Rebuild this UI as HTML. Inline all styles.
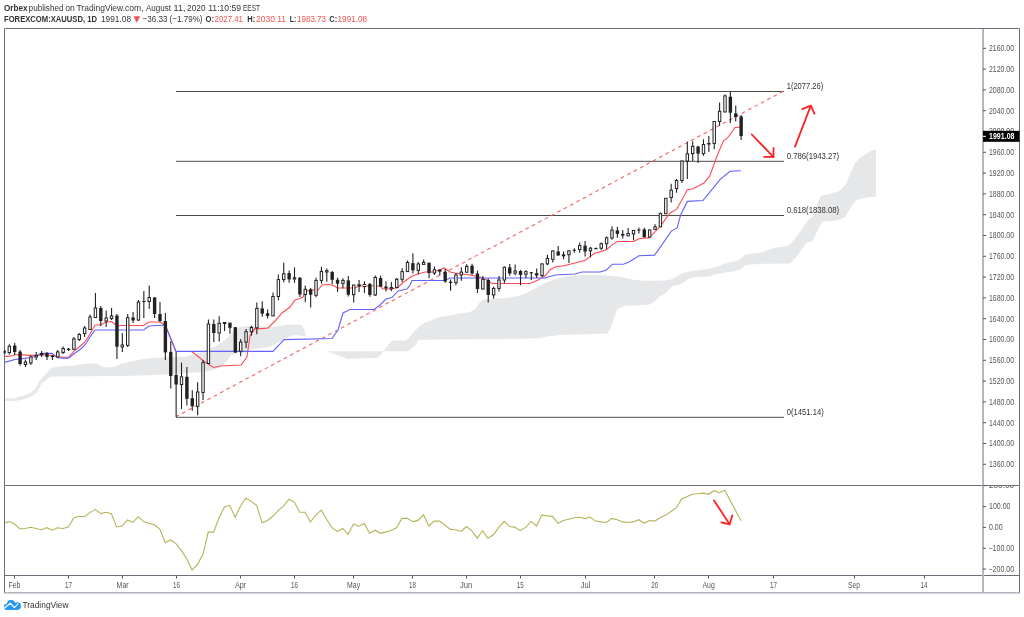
<!DOCTYPE html>
<html><head><meta charset="utf-8"><style>
html,body{margin:0;padding:0;background:#fff;}
body{width:1024px;height:617px;overflow:hidden;position:relative;font-family:"Liberation Sans", sans-serif;}
svg{position:absolute;left:0;top:0;will-change:transform;}
</style></head><body>
<svg width="1024" height="617" viewBox="0 0 1024 617" font-family='"Liberation Sans", sans-serif'>
<defs>
<clipPath id="mainclip"><rect x="5" y="29" width="977" height="456"/></clipPath>
<clipPath id="cciclip"><rect x="5" y="486" width="977" height="89"/></clipPath>
</defs>

<text x="4.0" y="11" font-size="9.2" font-weight="bold" fill="#333" textLength="23.6" lengthAdjust="spacingAndGlyphs">Orbex</text>
<text x="28.6" y="11" font-size="9.2" font-weight="normal" fill="#333" textLength="35" lengthAdjust="spacingAndGlyphs">published</text>
<text x="65.2" y="11" font-size="9.2" font-weight="normal" fill="#333" textLength="9.6" lengthAdjust="spacingAndGlyphs">on</text>
<text x="76.5" y="11" font-size="9.2" font-weight="normal" fill="#333" textLength="67" lengthAdjust="spacingAndGlyphs">TradingView.com,</text>
<text x="146.0" y="11" font-size="9.2" font-weight="normal" fill="#333" textLength="25" lengthAdjust="spacingAndGlyphs">August</text>
<text x="173.6" y="11" font-size="9.2" font-weight="normal" fill="#333" textLength="11.8" lengthAdjust="spacingAndGlyphs">11,</text>
<text x="187.1" y="11" font-size="9.2" font-weight="normal" fill="#333" textLength="18.4" lengthAdjust="spacingAndGlyphs">2020</text>
<text x="208.2" y="11" font-size="9.2" font-weight="normal" fill="#333" textLength="33" lengthAdjust="spacingAndGlyphs">11:10:59</text>
<text x="243.0" y="11" font-size="9.2" font-weight="normal" fill="#333" textLength="17" lengthAdjust="spacingAndGlyphs">EEST</text>
<text x="4" y="22.2" font-size="9.2" font-weight="bold" fill="#333" textLength="93" lengthAdjust="spacingAndGlyphs">FOREXCOM:XAUUSD, 1D</text>
<text x="101" y="22.2" font-size="9.2" font-weight="normal" fill="#333" textLength="30" lengthAdjust="spacingAndGlyphs">1991.08</text>
<text x="142.5" y="22.2" font-size="9.2" font-weight="normal" fill="#333" textLength="60" lengthAdjust="spacingAndGlyphs">−36.33 (−1.79%)</text>
<text x="205.5" y="22.2" font-size="9.2" font-weight="bold" fill="#333" textLength="8.5" lengthAdjust="spacingAndGlyphs">O:</text>
<text x="214.5" y="22.2" font-size="9.2" font-weight="normal" fill="#ef5350" textLength="28.5" lengthAdjust="spacingAndGlyphs">2027.41</text>
<text x="247.3" y="22.2" font-size="9.2" font-weight="bold" fill="#333" textLength="8" lengthAdjust="spacingAndGlyphs">H:</text>
<text x="256" y="22.2" font-size="9.2" font-weight="normal" fill="#ef5350" textLength="30" lengthAdjust="spacingAndGlyphs">2030.11</text>
<text x="289.8" y="22.2" font-size="9.2" font-weight="bold" fill="#333" textLength="6.5" lengthAdjust="spacingAndGlyphs">L:</text>
<text x="297" y="22.2" font-size="9.2" font-weight="normal" fill="#ef5350" textLength="29" lengthAdjust="spacingAndGlyphs">1983.73</text>
<text x="329.3" y="22.2" font-size="9.2" font-weight="bold" fill="#333" textLength="8" lengthAdjust="spacingAndGlyphs">C:</text>
<text x="337.5" y="22.2" font-size="9.2" font-weight="normal" fill="#ef5350" textLength="29.7" lengthAdjust="spacingAndGlyphs">1991.08</text>
<path d="M133.6,16.2 L140.1,16.2 L136.85,22.8 Z" fill="#ef5350"/>
<g clip-path="url(#mainclip)">
<polygon points="4.0,398.8 15.0,398.1 20.0,396.5 25.0,395.0 30.0,393.3 35.0,389.2 40.0,380.0 45.0,374.9 50.0,369.5 53.0,367.4 60.0,366.6 75.0,365.6 80.0,364.6 85.0,363.7 97.0,363.2 100.0,365.6 102.0,367.1 110.0,367.4 115.0,366.6 120.0,364.2 130.0,361.7 140.0,359.6 155.0,357.8 170.0,357.1 185.0,357.0 190.0,355.6 195.0,354.2 205.0,350.8 215.0,346.6 225.0,340.3 230.0,335.0 235.0,329.7 240.0,326.9 250.0,325.9 270.0,327.0 280.0,325.9 285.0,324.8 300.0,324.4 302.0,325.6 305.0,331.0 306.0,336.2 306.0,336.2 295.0,335.1 290.0,336.2 285.0,338.7 280.0,341.6 275.0,344.5 270.0,346.4 260.0,348.2 250.0,349.5 245.0,352.9 235.0,353.4 230.0,356.0 227.0,361.3 222.0,365.5 215.0,369.7 205.0,371.8 195.0,372.4 175.0,374.0 150.0,375.3 120.0,375.9 53.0,376.6 50.0,376.9 45.0,381.3 42.0,382.7 38.0,390.8 34.0,394.9 30.0,397.0 25.0,399.0 20.0,400.0 15.0,401.0 4.0,401.0" fill="#e6e7e9"/>
<polygon points="327.0,351.2 383.0,351.2 383.0,351.2 380.0,356.1 375.0,357.9 356.0,358.6 348.0,359.1 342.0,357.1 335.0,354.2 327.0,351.2" fill="#e6e7e9"/>
<polygon points="383.0,351.2 388.0,345.4 392.0,340.5 405.0,340.5 408.0,339.0 410.0,336.5 415.0,330.5 420.0,326.0 425.0,322.5 430.0,321.0 435.0,318.5 440.0,317.0 450.0,315.5 460.0,313.5 470.0,312.0 475.0,309.3 478.0,305.0 480.0,301.5 485.0,299.1 490.0,298.5 500.0,298.5 510.0,297.8 511.0,297.5 520.0,295.5 527.0,292.8 535.0,288.5 545.0,283.2 557.0,278.5 567.0,276.2 577.0,275.2 590.0,275.1 600.0,275.1 610.0,275.9 620.0,276.7 628.0,278.4 635.0,280.0 645.0,280.8 665.0,280.4 670.0,279.7 675.0,277.8 680.0,274.6 685.0,272.6 693.0,270.7 700.0,270.0 710.0,268.7 715.0,267.0 720.0,265.8 725.0,263.4 730.0,261.9 735.0,261.4 740.0,259.5 745.0,255.1 750.0,253.7 760.0,252.7 765.0,251.2 770.0,249.3 775.0,247.4 785.0,246.4 790.0,244.4 795.0,238.6 800.9,230.7 807.7,220.5 812.2,217.1 815.0,210.5 818.0,202.0 821.3,195.6 828.0,194.5 839.4,191.0 846.0,184.2 850.0,174.0 855.3,162.7 860.0,158.0 864.4,154.7 870.0,151.5 876.0,149.2 876.0,196.7 870.0,197.0 864.0,198.0 858.0,199.6 854.0,202.5 851.0,207.0 848.0,212.2 845.0,216.8 840.0,219.4 830.0,221.3 821.9,221.8 812.8,240.6 806.3,243.2 795.0,258.5 790.0,263.4 760.0,263.9 750.0,264.4 745.0,265.8 740.0,269.7 735.0,271.2 725.0,272.6 715.0,274.6 710.0,276.5 693.0,277.2 688.0,279.1 683.0,283.0 678.0,284.9 672.0,286.2 668.0,290.8 665.0,294.0 660.0,296.0 655.0,301.1 650.0,304.4 625.0,306.0 620.0,307.5 617.0,310.0 613.0,321.3 610.0,329.4 607.0,333.5 585.0,334.3 560.0,335.1 545.0,336.7 540.0,338.3 520.0,338.8 418.0,339.7 416.0,344.4 412.0,348.3 408.0,351.2 383.0,351.2" fill="#e6e7e9"/>
<line x1="176" y1="91.5" x2="784" y2="91.5" stroke="#4a4a4a" stroke-width="1"/>
<line x1="176" y1="161.3" x2="784" y2="161.3" stroke="#4a4a4a" stroke-width="1"/>
<line x1="176" y1="215.5" x2="784" y2="215.5" stroke="#4a4a4a" stroke-width="1"/>
<line x1="176" y1="417.3" x2="784" y2="417.3" stroke="#4a4a4a" stroke-width="1"/>
<line x1="176" y1="416.6" x2="783.5" y2="91.1" stroke="#f46464" stroke-width="1.1" stroke-dasharray="3.7,3.518" stroke-dashoffset="0.515"/>
<polyline points="4.0,356.4 10.0,356.2 15.0,354.8 20.0,354.6 30.0,355.4 36.0,355.4 41.0,354.8 47.0,355.0 52.0,355.2 57.5,356.6 63.0,357.3 68.5,357.3 74.0,351.1 80.0,346.2 85.0,342.0 90.0,334.0 95.0,325.0 100.5,325.0 106.0,322.0 111.5,321.5 117.0,326.0 122.0,325.5 143.6,325.5 149.0,322.0 159.8,322.0 165.2,325.0 176.0,351.4 192.0,351.5 200.0,358.0 205.0,362.0 213.6,367.5 220.0,366.0 241.0,365.0 247.0,357.0 250.0,336.0 255.0,328.6 262.0,328.6 268.0,328.0 275.0,321.0 282.0,313.0 290.0,307.0 295.0,300.0 300.0,298.5 303.0,297.0 305.0,292.0 310.0,290.0 318.0,290.0 322.0,285.0 328.0,284.5 332.0,285.0 338.0,288.0 355.0,288.0 359.0,286.0 380.0,286.0 383.0,289.0 390.0,289.0 397.0,288.0 405.0,281.0 412.0,276.0 418.0,274.0 425.0,272.0 432.0,272.0 440.0,270.0 444.0,268.0 450.0,272.0 455.0,273.0 462.0,274.0 470.0,275.0 480.0,277.0 487.0,280.0 492.0,283.5 530.0,283.5 538.0,280.0 545.0,276.0 550.0,270.0 555.0,267.0 565.0,265.5 575.0,263.0 585.0,260.5 595.0,253.0 600.0,251.9 607.1,249.3 613.0,244.1 617.5,241.5 633.7,241.5 638.9,238.7 649.3,237.6 654.5,232.4 661.0,225.3 670.0,213.0 676.7,209.2 687.4,189.8 693.2,188.8 703.9,183.0 709.7,176.1 717.5,154.7 723.4,141.1 727.3,138.2 735.0,127.5 741.0,127.1" fill="none" stroke="#ff4a55" stroke-width="1.1"/>
<polyline points="4.0,362.4 10.0,360.9 15.0,359.5 20.0,358.9 30.0,357.7 36.0,356.2 41.0,353.4 52.0,353.3 57.5,357.7 63.0,358.1 68.5,358.1 74.0,353.8 80.0,349.5 85.0,345.0 90.0,337.0 95.0,330.0 143.6,330.0 149.0,326.0 165.2,325.0 176.0,351.4 273.0,351.4 284.0,339.6 332.0,338.5 338.0,330.0 343.0,313.0 350.0,309.5 374.0,309.5 380.0,305.0 386.0,299.0 392.0,297.5 398.0,291.0 402.0,290.0 407.0,289.0 410.0,285.0 412.0,280.5 445.0,280.5 450.0,278.0 545.0,278.0 555.0,275.0 575.0,274.0 582.0,272.0 600.0,272.0 606.5,270.0 612.3,264.2 623.3,264.2 628.5,262.3 638.9,255.8 654.5,255.1 657.0,251.9 671.3,231.1 677.2,227.9 680.6,215.0 687.4,201.4 702.9,200.5 711.7,189.8 720.4,179.1 730.2,171.3 740.9,170.7" fill="none" stroke="#6262ff" stroke-width="1.1"/>
<line x1="3.94" y1="349.5" x2="3.94" y2="353.5" stroke="#222" stroke-width="1.1"/>
<rect x="2.24" y="350.8" width="3.4" height="1.6" fill="#222"/>
<line x1="9.32" y1="344.3" x2="9.32" y2="354.5" stroke="#222" stroke-width="1.1"/>
<rect x="8.12" y="346.3" width="2.4" height="6.3" fill="#fff" stroke="#222" stroke-width="1"/>
<line x1="14.70" y1="343.0" x2="14.70" y2="355.0" stroke="#222" stroke-width="1.1"/>
<rect x="13.00" y="345.6" width="3.4" height="6.4" fill="#222"/>
<line x1="20.08" y1="350.0" x2="20.08" y2="365.5" stroke="#222" stroke-width="1.1"/>
<rect x="18.38" y="351.6" width="3.4" height="12.4" fill="#222"/>
<line x1="25.46" y1="359.5" x2="25.46" y2="367.0" stroke="#222" stroke-width="1.1"/>
<rect x="24.26" y="362.0" width="2.4" height="2.5" fill="#fff" stroke="#222" stroke-width="1"/>
<line x1="30.84" y1="355.5" x2="30.84" y2="365.0" stroke="#222" stroke-width="1.1"/>
<rect x="29.64" y="357.0" width="2.4" height="6.0" fill="#fff" stroke="#222" stroke-width="1"/>
<line x1="36.22" y1="352.0" x2="36.22" y2="360.0" stroke="#222" stroke-width="1.1"/>
<rect x="35.02" y="355.5" width="2.4" height="1.5" fill="#fff" stroke="#222" stroke-width="1"/>
<line x1="41.61" y1="351.0" x2="41.61" y2="357.0" stroke="#222" stroke-width="1.1"/>
<rect x="39.91" y="353.0" width="3.4" height="2.3" fill="#222"/>
<line x1="46.99" y1="352.0" x2="46.99" y2="360.0" stroke="#222" stroke-width="1.1"/>
<rect x="45.29" y="353.0" width="3.4" height="4.0" fill="#222"/>
<line x1="52.37" y1="355.0" x2="52.37" y2="360.0" stroke="#222" stroke-width="1.1"/>
<rect x="50.67" y="355.5" width="3.4" height="1.5" fill="#222"/>
<line x1="57.75" y1="350.0" x2="57.75" y2="357.5" stroke="#222" stroke-width="1.1"/>
<rect x="56.55" y="351.9" width="2.4" height="5.1" fill="#fff" stroke="#222" stroke-width="1"/>
<line x1="63.13" y1="346.5" x2="63.13" y2="354.0" stroke="#222" stroke-width="1.1"/>
<rect x="61.93" y="348.5" width="2.4" height="4.0" fill="#fff" stroke="#222" stroke-width="1"/>
<line x1="68.51" y1="348.0" x2="68.51" y2="351.0" stroke="#222" stroke-width="1.1"/>
<rect x="66.81" y="348.7" width="3.4" height="1.3" fill="#222"/>
<line x1="73.89" y1="337.0" x2="73.89" y2="349.5" stroke="#222" stroke-width="1.1"/>
<rect x="72.69" y="338.9" width="2.4" height="10.4" fill="#fff" stroke="#222" stroke-width="1"/>
<line x1="79.27" y1="333.0" x2="79.27" y2="341.0" stroke="#222" stroke-width="1.1"/>
<rect x="78.07" y="334.5" width="2.4" height="5.0" fill="#fff" stroke="#222" stroke-width="1"/>
<line x1="84.65" y1="326.0" x2="84.65" y2="337.0" stroke="#222" stroke-width="1.1"/>
<rect x="83.45" y="328.0" width="2.4" height="5.5" fill="#fff" stroke="#222" stroke-width="1"/>
<line x1="90.03" y1="314.5" x2="90.03" y2="330.0" stroke="#222" stroke-width="1.1"/>
<rect x="88.83" y="317.0" width="2.4" height="12.5" fill="#fff" stroke="#222" stroke-width="1"/>
<line x1="95.42" y1="293.0" x2="95.42" y2="317.5" stroke="#222" stroke-width="1.1"/>
<rect x="94.22" y="308.0" width="2.4" height="9.5" fill="#fff" stroke="#222" stroke-width="1"/>
<line x1="100.80" y1="306.0" x2="100.80" y2="326.0" stroke="#222" stroke-width="1.1"/>
<rect x="99.10" y="308.0" width="3.4" height="13.0" fill="#222"/>
<line x1="106.18" y1="310.5" x2="106.18" y2="327.0" stroke="#222" stroke-width="1.1"/>
<rect x="104.98" y="318.0" width="2.4" height="3.0" fill="#fff" stroke="#222" stroke-width="1"/>
<line x1="111.56" y1="308.0" x2="111.56" y2="320.0" stroke="#222" stroke-width="1.1"/>
<rect x="110.36" y="316.0" width="2.4" height="2.6" fill="#fff" stroke="#222" stroke-width="1"/>
<line x1="116.94" y1="314.0" x2="116.94" y2="359.0" stroke="#222" stroke-width="1.1"/>
<rect x="115.24" y="315.6" width="3.4" height="31.1" fill="#222"/>
<line x1="122.32" y1="333.0" x2="122.32" y2="352.0" stroke="#222" stroke-width="1.1"/>
<rect x="121.12" y="345.0" width="2.4" height="2.0" fill="#fff" stroke="#222" stroke-width="1"/>
<line x1="127.70" y1="314.0" x2="127.70" y2="347.0" stroke="#222" stroke-width="1.1"/>
<rect x="126.50" y="317.6" width="2.4" height="27.8" fill="#fff" stroke="#222" stroke-width="1"/>
<line x1="133.08" y1="312.0" x2="133.08" y2="323.0" stroke="#222" stroke-width="1.1"/>
<rect x="131.38" y="317.5" width="3.4" height="3.0" fill="#222"/>
<line x1="138.46" y1="300.0" x2="138.46" y2="321.0" stroke="#222" stroke-width="1.1"/>
<rect x="137.26" y="302.0" width="2.4" height="18.0" fill="#fff" stroke="#222" stroke-width="1"/>
<line x1="143.84" y1="291.0" x2="143.84" y2="318.0" stroke="#222" stroke-width="1.1"/>
<rect x="142.14" y="301.0" width="3.4" height="1.0" fill="#222"/>
<line x1="149.22" y1="285.5" x2="149.22" y2="309.0" stroke="#222" stroke-width="1.1"/>
<rect x="148.03" y="297.5" width="2.4" height="4.0" fill="#fff" stroke="#222" stroke-width="1"/>
<line x1="154.61" y1="297.0" x2="154.61" y2="318.0" stroke="#222" stroke-width="1.1"/>
<rect x="152.91" y="297.5" width="3.4" height="16.5" fill="#222"/>
<line x1="159.99" y1="302.0" x2="159.99" y2="322.0" stroke="#222" stroke-width="1.1"/>
<rect x="158.29" y="314.0" width="3.4" height="7.0" fill="#222"/>
<line x1="165.37" y1="313.0" x2="165.37" y2="360.0" stroke="#222" stroke-width="1.1"/>
<rect x="163.67" y="321.0" width="3.4" height="31.4" fill="#222"/>
<line x1="170.75" y1="341.2" x2="170.75" y2="388.4" stroke="#222" stroke-width="1.1"/>
<rect x="169.05" y="351.9" width="3.4" height="24.1" fill="#222"/>
<line x1="176.13" y1="352.0" x2="176.13" y2="417.0" stroke="#222" stroke-width="1.1"/>
<rect x="174.43" y="375.0" width="3.4" height="9.5" fill="#222"/>
<line x1="181.51" y1="362.6" x2="181.51" y2="409.0" stroke="#222" stroke-width="1.1"/>
<rect x="180.31" y="376.8" width="2.4" height="7.7" fill="#fff" stroke="#222" stroke-width="1"/>
<line x1="186.89" y1="367.0" x2="186.89" y2="405.4" stroke="#222" stroke-width="1.1"/>
<rect x="185.19" y="376.8" width="3.4" height="22.0" fill="#222"/>
<line x1="192.27" y1="390.2" x2="192.27" y2="410.7" stroke="#222" stroke-width="1.1"/>
<rect x="190.57" y="398.2" width="3.4" height="8.1" fill="#222"/>
<line x1="197.65" y1="382.2" x2="197.65" y2="415.2" stroke="#222" stroke-width="1.1"/>
<rect x="196.45" y="392.0" width="2.4" height="14.3" fill="#fff" stroke="#222" stroke-width="1"/>
<line x1="203.03" y1="360.0" x2="203.03" y2="400.0" stroke="#222" stroke-width="1.1"/>
<rect x="201.84" y="362.6" width="2.4" height="29.8" fill="#fff" stroke="#222" stroke-width="1"/>
<line x1="208.42" y1="319.4" x2="208.42" y2="363.5" stroke="#222" stroke-width="1.1"/>
<rect x="207.22" y="324.0" width="2.4" height="39.5" fill="#fff" stroke="#222" stroke-width="1"/>
<line x1="213.80" y1="319.4" x2="213.80" y2="342.1" stroke="#222" stroke-width="1.1"/>
<rect x="212.10" y="324.0" width="3.4" height="9.0" fill="#222"/>
<line x1="219.18" y1="316.2" x2="219.18" y2="341.5" stroke="#222" stroke-width="1.1"/>
<rect x="217.98" y="323.3" width="2.4" height="9.7" fill="#fff" stroke="#222" stroke-width="1"/>
<line x1="224.56" y1="322.5" x2="224.56" y2="331.0" stroke="#222" stroke-width="1.1"/>
<rect x="223.36" y="322.5" width="2.4" height="1.0" fill="#fff" stroke="#222" stroke-width="1"/>
<line x1="229.94" y1="322.7" x2="229.94" y2="333.7" stroke="#222" stroke-width="1.1"/>
<rect x="228.24" y="322.7" width="3.4" height="5.1" fill="#222"/>
<line x1="235.32" y1="327.0" x2="235.32" y2="353.0" stroke="#222" stroke-width="1.1"/>
<rect x="233.62" y="327.2" width="3.4" height="25.3" fill="#222"/>
<line x1="240.70" y1="338.9" x2="240.70" y2="356.3" stroke="#222" stroke-width="1.1"/>
<rect x="239.50" y="342.1" width="2.4" height="9.1" fill="#fff" stroke="#222" stroke-width="1"/>
<line x1="246.08" y1="329.1" x2="246.08" y2="348.0" stroke="#222" stroke-width="1.1"/>
<rect x="244.88" y="331.7" width="2.4" height="10.4" fill="#fff" stroke="#222" stroke-width="1"/>
<line x1="251.46" y1="325.6" x2="251.46" y2="335.6" stroke="#222" stroke-width="1.1"/>
<rect x="250.26" y="327.5" width="2.4" height="4.2" fill="#fff" stroke="#222" stroke-width="1"/>
<line x1="256.85" y1="302.6" x2="256.85" y2="334.3" stroke="#222" stroke-width="1.1"/>
<rect x="255.65" y="308.4" width="2.4" height="19.4" fill="#fff" stroke="#222" stroke-width="1"/>
<line x1="262.23" y1="301.3" x2="262.23" y2="316.8" stroke="#222" stroke-width="1.1"/>
<rect x="260.53" y="308.4" width="3.4" height="5.2" fill="#222"/>
<line x1="267.61" y1="309.4" x2="267.61" y2="318.5" stroke="#222" stroke-width="1.1"/>
<rect x="265.91" y="313.3" width="3.4" height="2.6" fill="#222"/>
<line x1="272.99" y1="292.6" x2="272.99" y2="316.0" stroke="#222" stroke-width="1.1"/>
<rect x="271.79" y="296.5" width="2.4" height="19.4" fill="#fff" stroke="#222" stroke-width="1"/>
<line x1="278.37" y1="274.4" x2="278.37" y2="300.3" stroke="#222" stroke-width="1.1"/>
<rect x="277.17" y="279.6" width="2.4" height="16.9" fill="#fff" stroke="#222" stroke-width="1"/>
<line x1="283.75" y1="262.8" x2="283.75" y2="282.2" stroke="#222" stroke-width="1.1"/>
<rect x="282.55" y="273.8" width="2.4" height="5.8" fill="#fff" stroke="#222" stroke-width="1"/>
<line x1="289.13" y1="270.5" x2="289.13" y2="282.8" stroke="#222" stroke-width="1.1"/>
<rect x="287.43" y="273.1" width="3.4" height="6.3" fill="#222"/>
<line x1="294.51" y1="267.3" x2="294.51" y2="282.8" stroke="#222" stroke-width="1.1"/>
<rect x="293.31" y="277.7" width="2.4" height="1.3" fill="#fff" stroke="#222" stroke-width="1"/>
<line x1="299.89" y1="277.0" x2="299.89" y2="297.0" stroke="#222" stroke-width="1.1"/>
<rect x="298.19" y="277.7" width="3.4" height="16.8" fill="#222"/>
<line x1="305.27" y1="285.4" x2="305.27" y2="302.3" stroke="#222" stroke-width="1.1"/>
<rect x="304.07" y="289.3" width="2.4" height="5.2" fill="#fff" stroke="#222" stroke-width="1"/>
<line x1="310.66" y1="288.0" x2="310.66" y2="307.6" stroke="#222" stroke-width="1.1"/>
<rect x="308.96" y="289.3" width="3.4" height="5.4" fill="#222"/>
<line x1="316.04" y1="277.8" x2="316.04" y2="297.3" stroke="#222" stroke-width="1.1"/>
<rect x="314.84" y="280.4" width="2.4" height="14.9" fill="#fff" stroke="#222" stroke-width="1"/>
<line x1="321.42" y1="266.8" x2="321.42" y2="283.7" stroke="#222" stroke-width="1.1"/>
<rect x="320.22" y="271.4" width="2.4" height="9.0" fill="#fff" stroke="#222" stroke-width="1"/>
<line x1="326.80" y1="268.5" x2="326.80" y2="281.7" stroke="#222" stroke-width="1.1"/>
<rect x="325.60" y="270.7" width="2.4" height="1.3" fill="#fff" stroke="#222" stroke-width="1"/>
<line x1="332.18" y1="271.0" x2="332.18" y2="284.3" stroke="#222" stroke-width="1.1"/>
<rect x="330.48" y="272.0" width="3.4" height="7.8" fill="#222"/>
<line x1="337.56" y1="277.8" x2="337.56" y2="292.1" stroke="#222" stroke-width="1.1"/>
<rect x="335.86" y="279.8" width="3.4" height="3.9" fill="#222"/>
<line x1="342.94" y1="278.2" x2="342.94" y2="288.2" stroke="#222" stroke-width="1.1"/>
<rect x="341.74" y="280.4" width="2.4" height="3.0" fill="#fff" stroke="#222" stroke-width="1"/>
<line x1="348.32" y1="275.9" x2="348.32" y2="296.6" stroke="#222" stroke-width="1.1"/>
<rect x="346.62" y="280.4" width="3.4" height="14.3" fill="#222"/>
<line x1="353.70" y1="285.0" x2="353.70" y2="302.5" stroke="#222" stroke-width="1.1"/>
<rect x="352.50" y="285.0" width="2.4" height="9.7" fill="#fff" stroke="#222" stroke-width="1"/>
<line x1="359.08" y1="280.0" x2="359.08" y2="292.0" stroke="#222" stroke-width="1.1"/>
<rect x="357.38" y="284.3" width="3.4" height="2.0" fill="#222"/>
<line x1="364.46" y1="281.3" x2="364.46" y2="292.9" stroke="#222" stroke-width="1.1"/>
<rect x="363.26" y="284.5" width="2.4" height="2.0" fill="#fff" stroke="#222" stroke-width="1"/>
<line x1="369.85" y1="283.0" x2="369.85" y2="296.8" stroke="#222" stroke-width="1.1"/>
<rect x="368.15" y="283.9" width="3.4" height="11.0" fill="#222"/>
<line x1="375.23" y1="275.4" x2="375.23" y2="296.0" stroke="#222" stroke-width="1.1"/>
<rect x="374.03" y="277.4" width="2.4" height="17.5" fill="#fff" stroke="#222" stroke-width="1"/>
<line x1="380.61" y1="275.4" x2="380.61" y2="287.0" stroke="#222" stroke-width="1.1"/>
<rect x="378.91" y="278.0" width="3.4" height="8.5" fill="#222"/>
<line x1="385.99" y1="281.3" x2="385.99" y2="291.6" stroke="#222" stroke-width="1.1"/>
<rect x="384.29" y="286.5" width="3.4" height="1.9" fill="#222"/>
<line x1="391.37" y1="281.9" x2="391.37" y2="291.0" stroke="#222" stroke-width="1.1"/>
<rect x="390.17" y="287.5" width="2.4" height="1.3" fill="#fff" stroke="#222" stroke-width="1"/>
<line x1="396.75" y1="278.0" x2="396.75" y2="288.0" stroke="#222" stroke-width="1.1"/>
<rect x="395.55" y="279.3" width="2.4" height="8.2" fill="#fff" stroke="#222" stroke-width="1"/>
<line x1="402.13" y1="268.3" x2="402.13" y2="281.9" stroke="#222" stroke-width="1.1"/>
<rect x="400.93" y="271.6" width="2.4" height="7.7" fill="#fff" stroke="#222" stroke-width="1"/>
<line x1="407.51" y1="260.5" x2="407.51" y2="272.0" stroke="#222" stroke-width="1.1"/>
<rect x="406.31" y="262.5" width="2.4" height="9.1" fill="#fff" stroke="#222" stroke-width="1"/>
<line x1="412.89" y1="253.2" x2="412.89" y2="273.6" stroke="#222" stroke-width="1.1"/>
<rect x="411.19" y="263.1" width="3.4" height="7.2" fill="#222"/>
<line x1="418.28" y1="262.0" x2="418.28" y2="274.3" stroke="#222" stroke-width="1.1"/>
<rect x="417.08" y="264.0" width="2.4" height="6.4" fill="#fff" stroke="#222" stroke-width="1"/>
<line x1="423.66" y1="259.4" x2="423.66" y2="264.6" stroke="#222" stroke-width="1.1"/>
<rect x="422.46" y="262.4" width="2.4" height="2.0" fill="#fff" stroke="#222" stroke-width="1"/>
<line x1="429.04" y1="262.7" x2="429.04" y2="278.2" stroke="#222" stroke-width="1.1"/>
<rect x="427.34" y="262.7" width="3.4" height="10.3" fill="#222"/>
<line x1="434.42" y1="266.6" x2="434.42" y2="275.0" stroke="#222" stroke-width="1.1"/>
<rect x="433.22" y="269.8" width="2.4" height="3.2" fill="#fff" stroke="#222" stroke-width="1"/>
<line x1="439.80" y1="269.5" x2="439.80" y2="275.6" stroke="#222" stroke-width="1.1"/>
<rect x="438.10" y="269.5" width="3.4" height="2.2" fill="#222"/>
<line x1="445.18" y1="269.1" x2="445.18" y2="282.7" stroke="#222" stroke-width="1.1"/>
<rect x="443.48" y="271.7" width="3.4" height="9.8" fill="#222"/>
<line x1="450.56" y1="279.5" x2="450.56" y2="290.8" stroke="#222" stroke-width="1.1"/>
<rect x="448.86" y="281.7" width="3.4" height="1.3" fill="#222"/>
<line x1="455.94" y1="273.0" x2="455.94" y2="285.3" stroke="#222" stroke-width="1.1"/>
<rect x="454.74" y="275.0" width="2.4" height="7.7" fill="#fff" stroke="#222" stroke-width="1"/>
<line x1="461.32" y1="267.2" x2="461.32" y2="280.8" stroke="#222" stroke-width="1.1"/>
<rect x="460.12" y="272.1" width="2.4" height="2.9" fill="#fff" stroke="#222" stroke-width="1"/>
<line x1="466.70" y1="264.2" x2="466.70" y2="272.5" stroke="#222" stroke-width="1.1"/>
<rect x="465.50" y="266.4" width="2.4" height="5.8" fill="#fff" stroke="#222" stroke-width="1"/>
<line x1="472.08" y1="263.8" x2="472.08" y2="274.8" stroke="#222" stroke-width="1.1"/>
<rect x="470.38" y="265.7" width="3.4" height="7.8" fill="#222"/>
<line x1="477.47" y1="270.6" x2="477.47" y2="292.9" stroke="#222" stroke-width="1.1"/>
<rect x="475.77" y="273.5" width="3.4" height="15.5" fill="#222"/>
<line x1="482.85" y1="276.1" x2="482.85" y2="289.5" stroke="#222" stroke-width="1.1"/>
<rect x="481.65" y="279.3" width="2.4" height="9.7" fill="#fff" stroke="#222" stroke-width="1"/>
<line x1="488.23" y1="278.4" x2="488.23" y2="302.6" stroke="#222" stroke-width="1.1"/>
<rect x="486.53" y="280.0" width="3.4" height="14.9" fill="#222"/>
<line x1="493.61" y1="286.7" x2="493.61" y2="298.4" stroke="#222" stroke-width="1.1"/>
<rect x="492.41" y="288.4" width="2.4" height="6.5" fill="#fff" stroke="#222" stroke-width="1"/>
<line x1="498.99" y1="276.1" x2="498.99" y2="291.4" stroke="#222" stroke-width="1.1"/>
<rect x="497.79" y="280.0" width="2.4" height="8.4" fill="#fff" stroke="#222" stroke-width="1"/>
<line x1="504.37" y1="266.4" x2="504.37" y2="283.2" stroke="#222" stroke-width="1.1"/>
<rect x="503.17" y="267.3" width="2.4" height="12.7" fill="#fff" stroke="#222" stroke-width="1"/>
<line x1="509.75" y1="264.0" x2="509.75" y2="275.7" stroke="#222" stroke-width="1.1"/>
<rect x="508.05" y="267.4" width="3.4" height="6.1" fill="#222"/>
<line x1="515.13" y1="264.5" x2="515.13" y2="275.3" stroke="#222" stroke-width="1.1"/>
<rect x="513.93" y="271.0" width="2.4" height="2.2" fill="#fff" stroke="#222" stroke-width="1"/>
<line x1="520.51" y1="270.0" x2="520.51" y2="285.2" stroke="#222" stroke-width="1.1"/>
<rect x="518.81" y="271.0" width="3.4" height="3.9" fill="#222"/>
<line x1="525.90" y1="270.3" x2="525.90" y2="278.1" stroke="#222" stroke-width="1.1"/>
<rect x="524.70" y="271.6" width="2.4" height="2.6" fill="#fff" stroke="#222" stroke-width="1"/>
<line x1="531.28" y1="272.0" x2="531.28" y2="280.0" stroke="#222" stroke-width="1.1"/>
<rect x="529.58" y="272.3" width="3.4" height="1.0" fill="#222"/>
<line x1="536.66" y1="268.4" x2="536.66" y2="278.1" stroke="#222" stroke-width="1.1"/>
<rect x="534.96" y="273.2" width="3.4" height="2.3" fill="#222"/>
<line x1="542.04" y1="263.5" x2="542.04" y2="277.0" stroke="#222" stroke-width="1.1"/>
<rect x="540.84" y="263.9" width="2.4" height="11.6" fill="#fff" stroke="#222" stroke-width="1"/>
<line x1="547.42" y1="254.8" x2="547.42" y2="265.2" stroke="#222" stroke-width="1.1"/>
<rect x="546.22" y="258.4" width="2.4" height="5.5" fill="#fff" stroke="#222" stroke-width="1"/>
<line x1="552.80" y1="250.3" x2="552.80" y2="262.6" stroke="#222" stroke-width="1.1"/>
<rect x="551.60" y="250.9" width="2.4" height="8.4" fill="#fff" stroke="#222" stroke-width="1"/>
<line x1="558.18" y1="246.0" x2="558.18" y2="255.8" stroke="#222" stroke-width="1.1"/>
<rect x="556.48" y="251.5" width="3.4" height="4.0" fill="#222"/>
<line x1="563.56" y1="251.5" x2="563.56" y2="259.3" stroke="#222" stroke-width="1.1"/>
<rect x="562.36" y="254.8" width="2.4" height="1.0" fill="#fff" stroke="#222" stroke-width="1"/>
<line x1="568.94" y1="250.5" x2="568.94" y2="263.1" stroke="#222" stroke-width="1.1"/>
<rect x="567.74" y="250.8" width="2.4" height="3.9" fill="#fff" stroke="#222" stroke-width="1"/>
<line x1="574.32" y1="248.2" x2="574.32" y2="252.7" stroke="#222" stroke-width="1.1"/>
<rect x="572.62" y="249.8" width="3.4" height="1.0" fill="#222"/>
<line x1="579.71" y1="242.4" x2="579.71" y2="252.7" stroke="#222" stroke-width="1.1"/>
<rect x="578.50" y="245.6" width="2.4" height="3.9" fill="#fff" stroke="#222" stroke-width="1"/>
<line x1="585.09" y1="241.1" x2="585.09" y2="256.6" stroke="#222" stroke-width="1.1"/>
<rect x="583.39" y="245.6" width="3.4" height="5.9" fill="#222"/>
<line x1="590.47" y1="246.9" x2="590.47" y2="257.3" stroke="#222" stroke-width="1.1"/>
<rect x="589.27" y="248.2" width="2.4" height="2.6" fill="#fff" stroke="#222" stroke-width="1"/>
<line x1="595.85" y1="247.5" x2="595.85" y2="249.5" stroke="#222" stroke-width="1.1"/>
<rect x="594.15" y="248.0" width="3.4" height="1.0" fill="#222"/>
<line x1="601.23" y1="242.4" x2="601.23" y2="250.2" stroke="#222" stroke-width="1.1"/>
<rect x="600.03" y="243.7" width="2.4" height="4.5" fill="#fff" stroke="#222" stroke-width="1"/>
<line x1="606.61" y1="236.6" x2="606.61" y2="248.9" stroke="#222" stroke-width="1.1"/>
<rect x="605.41" y="237.8" width="2.4" height="5.9" fill="#fff" stroke="#222" stroke-width="1"/>
<line x1="611.99" y1="226.2" x2="611.99" y2="239.8" stroke="#222" stroke-width="1.1"/>
<rect x="610.79" y="230.1" width="2.4" height="7.9" fill="#fff" stroke="#222" stroke-width="1"/>
<line x1="617.37" y1="226.8" x2="617.37" y2="237.8" stroke="#222" stroke-width="1.1"/>
<rect x="615.67" y="230.4" width="3.4" height="3.5" fill="#222"/>
<line x1="622.75" y1="230.0" x2="622.75" y2="238.5" stroke="#222" stroke-width="1.1"/>
<rect x="621.05" y="233.9" width="3.4" height="1.7" fill="#222"/>
<line x1="628.13" y1="228.1" x2="628.13" y2="236.0" stroke="#222" stroke-width="1.1"/>
<rect x="626.93" y="233.5" width="2.4" height="2.4" fill="#fff" stroke="#222" stroke-width="1"/>
<line x1="633.52" y1="230.4" x2="633.52" y2="240.4" stroke="#222" stroke-width="1.1"/>
<rect x="632.32" y="230.4" width="2.4" height="3.5" fill="#fff" stroke="#222" stroke-width="1"/>
<line x1="638.90" y1="227.5" x2="638.90" y2="233.5" stroke="#222" stroke-width="1.1"/>
<rect x="637.20" y="229.6" width="3.4" height="1.0" fill="#222"/>
<line x1="644.28" y1="227.8" x2="644.28" y2="237.5" stroke="#222" stroke-width="1.1"/>
<rect x="642.58" y="229.4" width="3.4" height="7.8" fill="#222"/>
<line x1="649.66" y1="229.5" x2="649.66" y2="237.5" stroke="#222" stroke-width="1.1"/>
<rect x="648.46" y="230.0" width="2.4" height="7.2" fill="#fff" stroke="#222" stroke-width="1"/>
<line x1="655.04" y1="224.2" x2="655.04" y2="229.5" stroke="#222" stroke-width="1.1"/>
<rect x="653.84" y="226.8" width="2.4" height="2.6" fill="#fff" stroke="#222" stroke-width="1"/>
<line x1="660.42" y1="212.6" x2="660.42" y2="227.0" stroke="#222" stroke-width="1.1"/>
<rect x="659.22" y="213.6" width="2.4" height="13.2" fill="#fff" stroke="#222" stroke-width="1"/>
<line x1="665.80" y1="198.0" x2="665.80" y2="214.0" stroke="#222" stroke-width="1.1"/>
<rect x="664.60" y="198.3" width="2.4" height="15.4" fill="#fff" stroke="#222" stroke-width="1"/>
<line x1="671.18" y1="183.8" x2="671.18" y2="202.4" stroke="#222" stroke-width="1.1"/>
<rect x="669.98" y="190.2" width="2.4" height="7.3" fill="#fff" stroke="#222" stroke-width="1"/>
<line x1="676.56" y1="178.9" x2="676.56" y2="192.7" stroke="#222" stroke-width="1.1"/>
<rect x="675.36" y="180.5" width="2.4" height="8.1" fill="#fff" stroke="#222" stroke-width="1"/>
<line x1="681.94" y1="160.5" x2="681.94" y2="183.0" stroke="#222" stroke-width="1.1"/>
<rect x="680.74" y="161.0" width="2.4" height="19.5" fill="#fff" stroke="#222" stroke-width="1"/>
<line x1="687.33" y1="141.6" x2="687.33" y2="178.9" stroke="#222" stroke-width="1.1"/>
<rect x="686.12" y="153.8" width="2.4" height="7.2" fill="#fff" stroke="#222" stroke-width="1"/>
<line x1="692.71" y1="141.2" x2="692.71" y2="160.9" stroke="#222" stroke-width="1.1"/>
<rect x="691.51" y="146.3" width="2.4" height="7.3" fill="#fff" stroke="#222" stroke-width="1"/>
<line x1="698.09" y1="145.7" x2="698.09" y2="163.0" stroke="#222" stroke-width="1.1"/>
<rect x="696.39" y="146.6" width="3.4" height="7.0" fill="#222"/>
<line x1="703.47" y1="139.3" x2="703.47" y2="155.8" stroke="#222" stroke-width="1.1"/>
<rect x="702.27" y="144.5" width="2.4" height="9.1" fill="#fff" stroke="#222" stroke-width="1"/>
<line x1="708.85" y1="136.0" x2="708.85" y2="152.1" stroke="#222" stroke-width="1.1"/>
<rect x="707.15" y="143.0" width="3.4" height="1.5" fill="#222"/>
<line x1="714.23" y1="121.0" x2="714.23" y2="149.2" stroke="#222" stroke-width="1.1"/>
<rect x="713.03" y="121.5" width="2.4" height="21.9" fill="#fff" stroke="#222" stroke-width="1"/>
<line x1="719.61" y1="102.5" x2="719.61" y2="125.8" stroke="#222" stroke-width="1.1"/>
<rect x="718.41" y="111.3" width="2.4" height="10.2" fill="#fff" stroke="#222" stroke-width="1"/>
<line x1="724.99" y1="94.5" x2="724.99" y2="112.0" stroke="#222" stroke-width="1.1"/>
<rect x="723.79" y="95.9" width="2.4" height="16.1" fill="#fff" stroke="#222" stroke-width="1"/>
<line x1="730.37" y1="91.6" x2="730.37" y2="122.9" stroke="#222" stroke-width="1.1"/>
<rect x="728.67" y="96.7" width="3.4" height="16.0" fill="#222"/>
<line x1="735.75" y1="105.4" x2="735.75" y2="121.5" stroke="#222" stroke-width="1.1"/>
<rect x="734.05" y="113.4" width="3.4" height="3.7" fill="#222"/>
<line x1="741.14" y1="114.9" x2="741.14" y2="140.1" stroke="#222" stroke-width="1.1"/>
<rect x="739.44" y="116.4" width="3.4" height="19.7" fill="#222"/>
</g>
<text x="786.7" y="88.8" font-size="8.6" fill="#333" textLength="36.5" lengthAdjust="spacingAndGlyphs">1(2077.26)</text>
<text x="786.7" y="158.5" font-size="8.6" fill="#333" textLength="52.5" lengthAdjust="spacingAndGlyphs">0.786(1943.27)</text>
<text x="786.7" y="212.9" font-size="8.6" fill="#333" textLength="52.5" lengthAdjust="spacingAndGlyphs">0.618(1838.08)</text>
<text x="786.7" y="414.5" font-size="8.6" fill="#333" textLength="37" lengthAdjust="spacingAndGlyphs">0(1451.14)</text>
<g stroke="#ff2020" stroke-width="1.8" fill="none" stroke-linecap="round" stroke-linejoin="round">
<line x1="751.8" y1="134.5" x2="773.4" y2="156.9"/><polyline points="764.1,156.9 773.4,156.9 773.6,147.8"/>
<line x1="795" y1="146.6" x2="810.8" y2="105.6"/><polyline points="802.3,109.2 810.8,105.6 814.5,113.7"/>
<line x1="714" y1="500.4" x2="729.6" y2="524.3"/><polyline points="721.3,522.4 729.6,524.3 732.3,515.4"/>
</g>
<g clip-path="url(#cciclip)"><polyline points="4.0,522.8 9.1,521.6 14.5,524.0 19.9,529.0 25.3,528.5 30.6,527.2 36.0,528.5 41.4,529.7 46.8,527.7 52.2,530.2 57.5,527.7 62.9,528.5 68.3,527.0 73.7,518.0 79.1,516.3 84.5,516.7 89.8,512.6 95.2,509.4 100.6,513.6 105.9,512.3 111.4,513.6 116.7,527.0 122.1,526.0 127.5,519.9 132.9,522.4 138.3,516.7 143.6,521.6 149.0,523.3 154.4,524.8 159.8,529.0 165.2,542.4 170.6,540.0 175.9,543.6 181.3,550.4 186.7,558.7 192.1,570.0 197.5,564.3 202.9,554.6 208.2,532.1 213.6,532.1 219.0,518.0 224.4,507.0 229.7,505.3 235.1,517.2 240.5,506.0 245.9,498.0 251.3,501.6 256.6,505.3 262.0,522.8 267.4,520.4 272.8,516.3 278.2,510.6 283.5,506.2 288.9,499.2 294.3,502.1 299.7,512.3 305.1,512.3 310.5,522.1 315.8,515.0 321.2,510.1 326.6,519.2 332.0,527.7 337.4,531.4 342.7,528.5 348.1,534.3 353.5,524.0 358.9,526.5 364.3,523.6 369.6,533.3 375.0,530.2 380.4,533.3 385.8,531.9 391.2,530.2 396.6,527.7 401.9,518.4 407.3,518.4 412.7,521.6 418.1,520.4 423.5,514.8 428.8,526.0 434.2,521.1 439.6,521.1 445.0,525.3 450.4,529.4 455.7,529.7 461.1,531.4 466.5,526.5 471.9,530.9 477.3,538.2 482.6,530.8 488.0,538.2 493.4,534.8 498.8,527.4 504.2,521.4 509.6,526.6 515.0,527.4 520.3,530.7 525.7,527.4 531.1,521.4 536.5,526.0 541.8,515.1 547.2,515.9 552.6,516.4 558.0,523.3 563.4,520.5 568.7,519.2 574.1,517.8 579.5,517.3 584.9,518.6 590.2,517.0 595.6,521.1 601.0,521.9 606.4,522.5 611.8,518.4 617.2,519.7 622.6,521.9 628.0,522.5 633.3,521.9 638.7,519.7 644.1,523.3 649.5,520.5 654.8,521.1 660.2,517.8 665.6,515.1 671.0,511.5 676.4,507.7 681.7,499.0 687.1,496.5 692.5,494.3 697.9,493.8 703.3,493.1 708.6,494.3 714.0,490.7 719.4,492.7 724.8,490.3 741.0,520.7" fill="none" stroke="#b3b35a" stroke-width="1.1"/></g>
<rect x="4" y="592" width="1016" height="1.6" fill="#b4b7bf"/>
<path d="M4.5,592.5 L4.5,28.5 L1019.5,28.5 L1019.5,592.5" fill="none" stroke="#6c6f7a" stroke-width="1"/>
<line x1="4" y1="485.5" x2="1020" y2="485.5" stroke="#6c6f7a" stroke-width="1"/>
<line x1="4" y1="575.5" x2="1020" y2="575.5" stroke="#6c6f7a" stroke-width="1"/>
<rect x="982" y="29" width="2" height="564" fill="#b4b7bf"/>
<rect x="3.6" y="350.6" width="2" height="3" fill="#222"/>
<line x1="983" y1="48.3" x2="986" y2="48.3" stroke="#555" stroke-width="1"/>
<text x="989" y="51.1" font-size="8.8" fill="#555" textLength="25" lengthAdjust="spacingAndGlyphs">2160.00</text>
<line x1="983" y1="69.1" x2="986" y2="69.1" stroke="#555" stroke-width="1"/>
<text x="989" y="71.9" font-size="8.8" fill="#555" textLength="25" lengthAdjust="spacingAndGlyphs">2120.00</text>
<line x1="983" y1="89.9" x2="986" y2="89.9" stroke="#555" stroke-width="1"/>
<text x="989" y="92.7" font-size="8.8" fill="#555" textLength="25" lengthAdjust="spacingAndGlyphs">2080.00</text>
<line x1="983" y1="110.7" x2="986" y2="110.7" stroke="#555" stroke-width="1"/>
<text x="989" y="113.5" font-size="8.8" fill="#555" textLength="25" lengthAdjust="spacingAndGlyphs">2040.00</text>
<line x1="983" y1="131.5" x2="986" y2="131.5" stroke="#555" stroke-width="1"/>
<text x="989" y="134.3" font-size="8.8" fill="#555" textLength="25" lengthAdjust="spacingAndGlyphs">2000.00</text>
<line x1="983" y1="152.3" x2="986" y2="152.3" stroke="#555" stroke-width="1"/>
<text x="989" y="155.1" font-size="8.8" fill="#555" textLength="25" lengthAdjust="spacingAndGlyphs">1960.00</text>
<line x1="983" y1="173.1" x2="986" y2="173.1" stroke="#555" stroke-width="1"/>
<text x="989" y="175.9" font-size="8.8" fill="#555" textLength="25" lengthAdjust="spacingAndGlyphs">1920.00</text>
<line x1="983" y1="193.9" x2="986" y2="193.9" stroke="#555" stroke-width="1"/>
<text x="989" y="196.7" font-size="8.8" fill="#555" textLength="25" lengthAdjust="spacingAndGlyphs">1880.00</text>
<line x1="983" y1="214.7" x2="986" y2="214.7" stroke="#555" stroke-width="1"/>
<text x="989" y="217.5" font-size="8.8" fill="#555" textLength="25" lengthAdjust="spacingAndGlyphs">1840.00</text>
<line x1="983" y1="235.5" x2="986" y2="235.5" stroke="#555" stroke-width="1"/>
<text x="989" y="238.3" font-size="8.8" fill="#555" textLength="25" lengthAdjust="spacingAndGlyphs">1800.00</text>
<line x1="983" y1="256.3" x2="986" y2="256.3" stroke="#555" stroke-width="1"/>
<text x="989" y="259.1" font-size="8.8" fill="#555" textLength="25" lengthAdjust="spacingAndGlyphs">1760.00</text>
<line x1="983" y1="277.1" x2="986" y2="277.1" stroke="#555" stroke-width="1"/>
<text x="989" y="279.9" font-size="8.8" fill="#555" textLength="25" lengthAdjust="spacingAndGlyphs">1720.00</text>
<line x1="983" y1="297.9" x2="986" y2="297.9" stroke="#555" stroke-width="1"/>
<text x="989" y="300.7" font-size="8.8" fill="#555" textLength="25" lengthAdjust="spacingAndGlyphs">1680.00</text>
<line x1="983" y1="318.7" x2="986" y2="318.7" stroke="#555" stroke-width="1"/>
<text x="989" y="321.5" font-size="8.8" fill="#555" textLength="25" lengthAdjust="spacingAndGlyphs">1640.00</text>
<line x1="983" y1="339.5" x2="986" y2="339.5" stroke="#555" stroke-width="1"/>
<text x="989" y="342.3" font-size="8.8" fill="#555" textLength="25" lengthAdjust="spacingAndGlyphs">1600.00</text>
<line x1="983" y1="360.3" x2="986" y2="360.3" stroke="#555" stroke-width="1"/>
<text x="989" y="363.1" font-size="8.8" fill="#555" textLength="25" lengthAdjust="spacingAndGlyphs">1560.00</text>
<line x1="983" y1="381.1" x2="986" y2="381.1" stroke="#555" stroke-width="1"/>
<text x="989" y="383.9" font-size="8.8" fill="#555" textLength="25" lengthAdjust="spacingAndGlyphs">1520.00</text>
<line x1="983" y1="401.9" x2="986" y2="401.9" stroke="#555" stroke-width="1"/>
<text x="989" y="404.7" font-size="8.8" fill="#555" textLength="25" lengthAdjust="spacingAndGlyphs">1480.00</text>
<line x1="983" y1="422.7" x2="986" y2="422.7" stroke="#555" stroke-width="1"/>
<text x="989" y="425.5" font-size="8.8" fill="#555" textLength="25" lengthAdjust="spacingAndGlyphs">1440.00</text>
<line x1="983" y1="443.5" x2="986" y2="443.5" stroke="#555" stroke-width="1"/>
<text x="989" y="446.3" font-size="8.8" fill="#555" textLength="25" lengthAdjust="spacingAndGlyphs">1400.00</text>
<line x1="983" y1="464.3" x2="986" y2="464.3" stroke="#555" stroke-width="1"/>
<text x="989" y="467.1" font-size="8.8" fill="#555" textLength="25" lengthAdjust="spacingAndGlyphs">1360.00</text>
<line x1="983" y1="485.6" x2="986" y2="485.6" stroke="#555" stroke-width="1"/>
<g clip-path="url(#cciaxclip)"><text x="989" y="488.4" font-size="8.8" fill="#555" textLength="25" lengthAdjust="spacingAndGlyphs">200.00</text></g>
<line x1="983" y1="506.6" x2="986" y2="506.6" stroke="#555" stroke-width="1"/>
<text x="989" y="509.4" font-size="8.8" fill="#555" textLength="21.5" lengthAdjust="spacingAndGlyphs">100.00</text>
<line x1="983" y1="527.4" x2="986" y2="527.4" stroke="#555" stroke-width="1"/>
<text x="989" y="530.2" font-size="8.8" fill="#555" textLength="13.6" lengthAdjust="spacingAndGlyphs">0.00</text>
<line x1="983" y1="548.3" x2="986" y2="548.3" stroke="#555" stroke-width="1"/>
<text x="988.5" y="551.1" font-size="8.8" fill="#555" textLength="25.6" lengthAdjust="spacingAndGlyphs">−100.00</text>
<line x1="983" y1="569.0" x2="986" y2="569.0" stroke="#555" stroke-width="1"/>
<text x="988.5" y="571.8" font-size="8.8" fill="#555" textLength="25.6" lengthAdjust="spacingAndGlyphs">−200.00</text>
<defs><clipPath id="cciaxclip"><rect x="984" y="486" width="35" height="20"/></clipPath></defs>
<rect x="983" y="130.8" width="36.5" height="11" fill="#000"/>
<line x1="983" y1="136.3" x2="986" y2="136.3" stroke="#fff" stroke-width="1"/>
<text x="989" y="139.3" font-size="8.2" font-weight="bold" fill="#fff" textLength="25.5" lengthAdjust="spacingAndGlyphs">1991.08</text>
<line x1="14.5" y1="576" x2="14.5" y2="578.5" stroke="#555" stroke-width="1"/>
<text x="8.55" y="587.6" font-size="8.6" fill="#555" textLength="11.9" lengthAdjust="spacingAndGlyphs">Feb</text>
<line x1="68.5" y1="576" x2="68.5" y2="578.5" stroke="#555" stroke-width="1"/>
<text x="65.00" y="587.6" font-size="8.6" fill="#555" textLength="7" lengthAdjust="spacingAndGlyphs">17</text>
<line x1="122.5" y1="576" x2="122.5" y2="578.5" stroke="#555" stroke-width="1"/>
<text x="116.55" y="587.6" font-size="8.6" fill="#555" textLength="12.1" lengthAdjust="spacingAndGlyphs">Mar</text>
<line x1="176.5" y1="576" x2="176.5" y2="578.5" stroke="#555" stroke-width="1"/>
<text x="172.90" y="587.6" font-size="8.6" fill="#555" textLength="7" lengthAdjust="spacingAndGlyphs">16</text>
<line x1="240.5" y1="576" x2="240.5" y2="578.5" stroke="#555" stroke-width="1"/>
<text x="235.00" y="587.6" font-size="8.6" fill="#555" textLength="11.2" lengthAdjust="spacingAndGlyphs">Apr</text>
<line x1="294.5" y1="576" x2="294.5" y2="578.5" stroke="#555" stroke-width="1"/>
<text x="290.90" y="587.6" font-size="8.6" fill="#555" textLength="7" lengthAdjust="spacingAndGlyphs">16</text>
<line x1="353.5" y1="576" x2="353.5" y2="578.5" stroke="#555" stroke-width="1"/>
<text x="347.10" y="587.6" font-size="8.6" fill="#555" textLength="13" lengthAdjust="spacingAndGlyphs">May</text>
<line x1="412.5" y1="576" x2="412.5" y2="578.5" stroke="#555" stroke-width="1"/>
<text x="408.95" y="587.6" font-size="8.6" fill="#555" textLength="6.9" lengthAdjust="spacingAndGlyphs">18</text>
<line x1="466.5" y1="576" x2="466.5" y2="578.5" stroke="#555" stroke-width="1"/>
<text x="460.05" y="587.6" font-size="8.6" fill="#555" textLength="12.3" lengthAdjust="spacingAndGlyphs">Jun</text>
<line x1="520.5" y1="576" x2="520.5" y2="578.5" stroke="#555" stroke-width="1"/>
<text x="516.80" y="587.6" font-size="8.6" fill="#555" textLength="7" lengthAdjust="spacingAndGlyphs">15</text>
<line x1="585.5" y1="576" x2="585.5" y2="578.5" stroke="#555" stroke-width="1"/>
<text x="580.70" y="587.6" font-size="8.6" fill="#555" textLength="9.6" lengthAdjust="spacingAndGlyphs">Jul</text>
<line x1="654.5" y1="576" x2="654.5" y2="578.5" stroke="#555" stroke-width="1"/>
<text x="651.30" y="587.6" font-size="8.6" fill="#555" textLength="7" lengthAdjust="spacingAndGlyphs">20</text>
<line x1="708.5" y1="576" x2="708.5" y2="578.5" stroke="#555" stroke-width="1"/>
<text x="702.50" y="587.6" font-size="8.6" fill="#555" textLength="12.2" lengthAdjust="spacingAndGlyphs">Aug</text>
<line x1="773.5" y1="576" x2="773.5" y2="578.5" stroke="#555" stroke-width="1"/>
<text x="770.10" y="587.6" font-size="8.6" fill="#555" textLength="7" lengthAdjust="spacingAndGlyphs">17</text>
<line x1="854.5" y1="576" x2="854.5" y2="578.5" stroke="#555" stroke-width="1"/>
<text x="848.00" y="587.6" font-size="8.6" fill="#555" textLength="12" lengthAdjust="spacingAndGlyphs">Sep</text>
<line x1="924.5" y1="576" x2="924.5" y2="578.5" stroke="#555" stroke-width="1"/>
<text x="920.50" y="587.6" font-size="8.6" fill="#555" textLength="7" lengthAdjust="spacingAndGlyphs">14</text>
<g fill="#2196f3">
<ellipse cx="6.8" cy="606.8" rx="2.85" ry="3.1"/>
<circle cx="11" cy="604" r="4.1"/>
<ellipse cx="17.3" cy="606.1" rx="3.7" ry="3.8"/>
<rect x="6.8" y="605" width="10.6" height="4.9"/>
</g>
<polyline points="4.5,608 10.3,603.2 14.4,607.6 18.3,603.6" fill="none" stroke="#fff" stroke-width="1.25" stroke-linejoin="round"/>
<text x="22.5" y="608" font-size="8.8" fill="#333" textLength="46" lengthAdjust="spacingAndGlyphs">TradingView</text>
</svg></body></html>
